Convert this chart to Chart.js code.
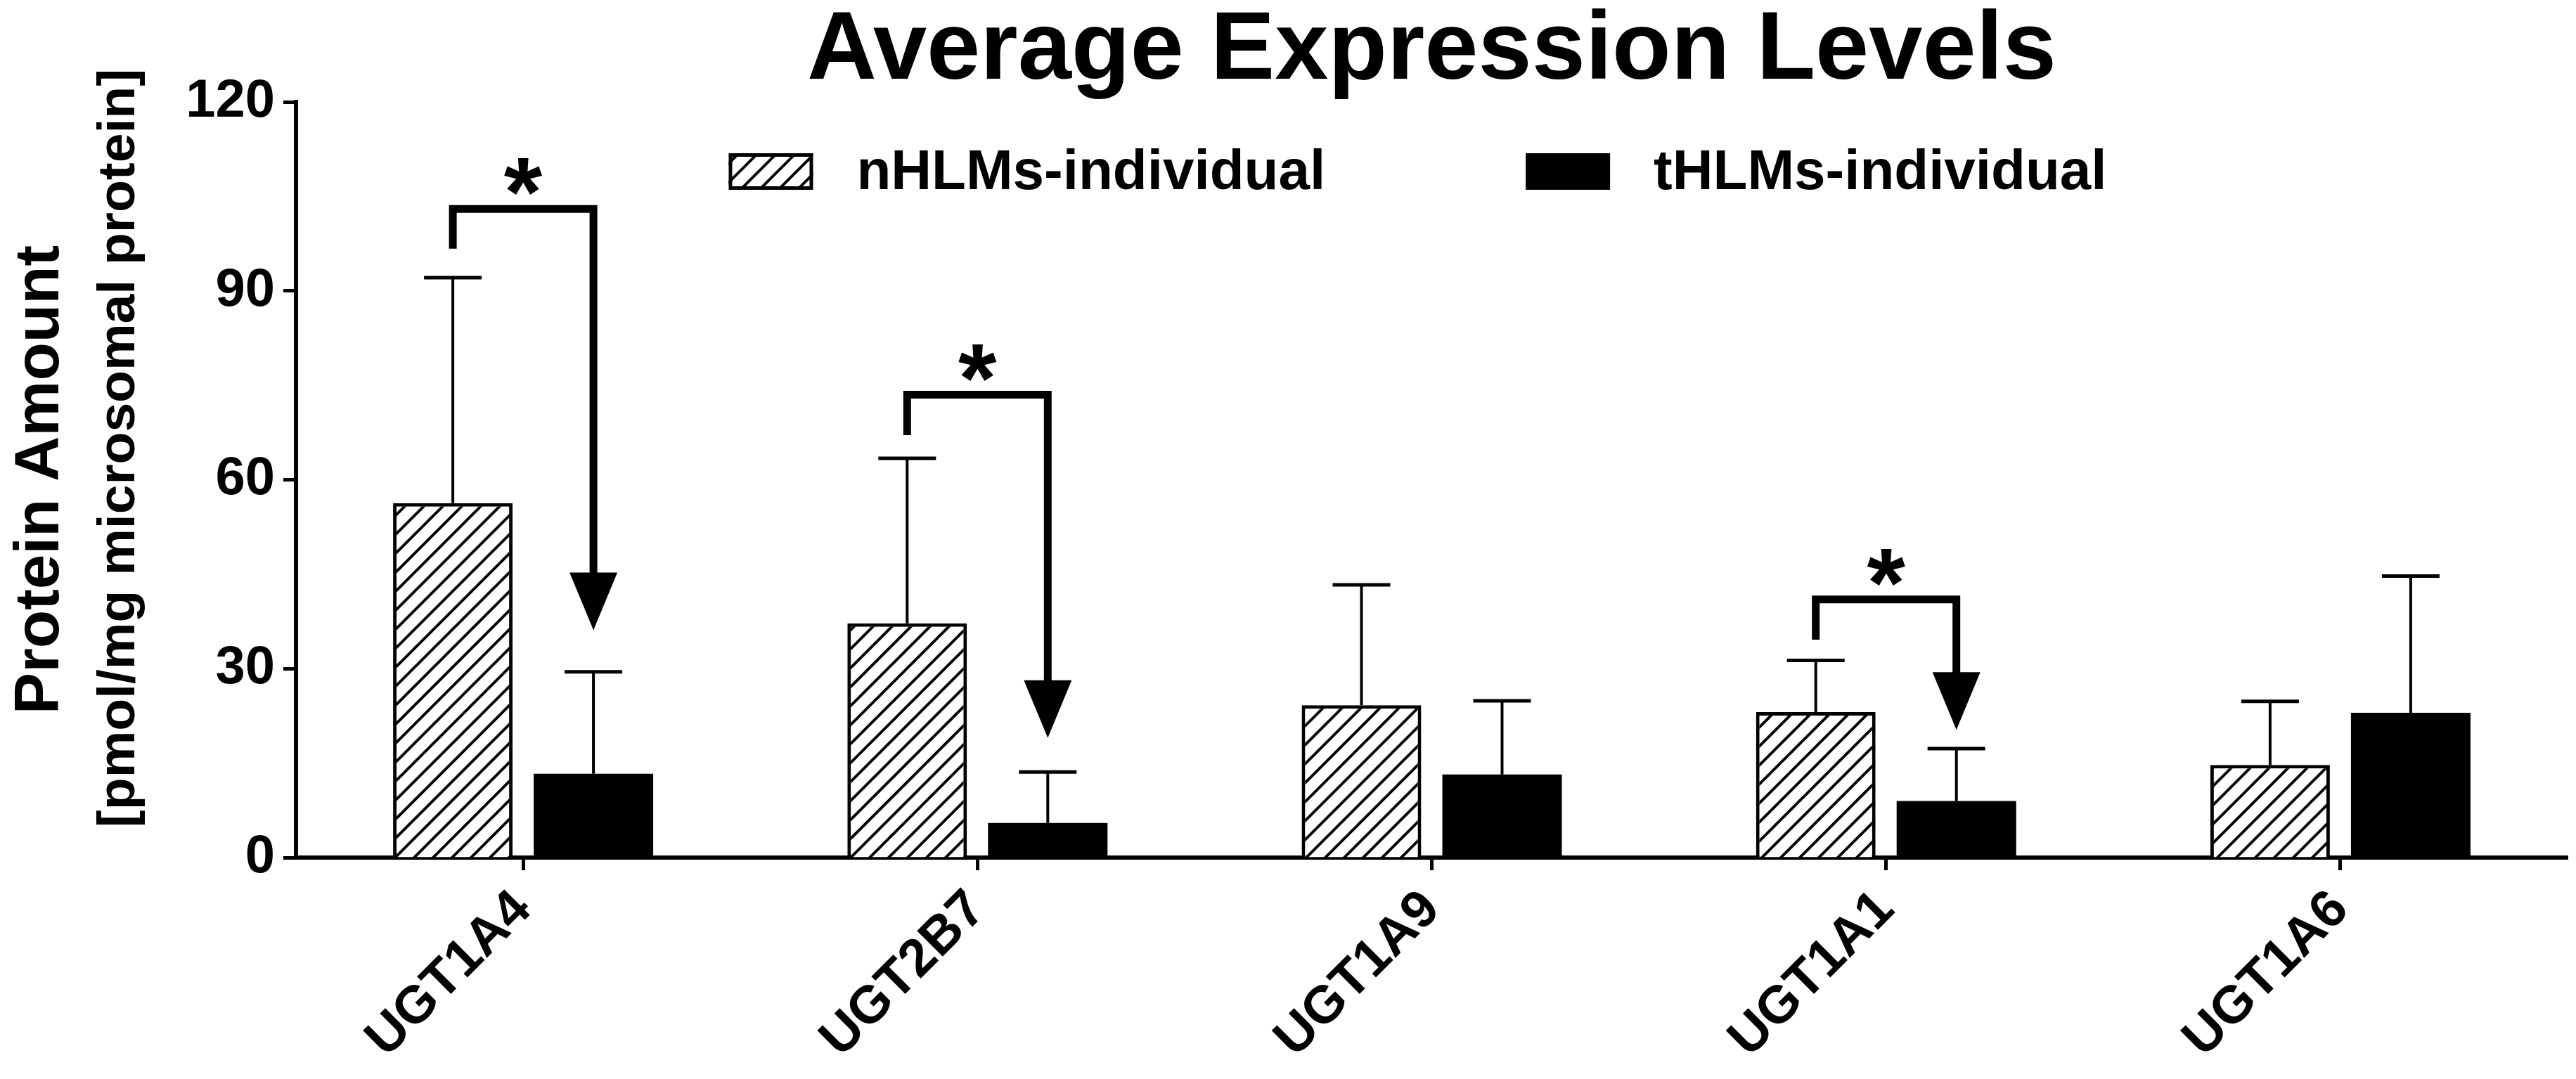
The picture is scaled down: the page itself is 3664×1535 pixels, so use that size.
<!DOCTYPE html>
<html>
<head>
<meta charset="utf-8">
<script src="https://cdn.jsdelivr.net/npm/chart.js@4.4.1/dist/chart.umd.min.js"></script>
<style>
  html, body { margin: 0; padding: 0; background: #fff; }
</style>
</head>
<body>
<canvas id="chart" width="3664" height="1535"></canvas>
<script>
// values (pmol/mg microsomal protein)
const categories = ['UGT1A4', 'UGT2B7', 'UGT1A9', 'UGT1A1', 'UGT1A6'];
const normalMeans = [56.3, 37.2, 24.2, 23.1, 14.7];
const normalSD = [35.8, 26.2, 19.1, 8.2, 10.1];
const tumorMeans = [13.3, 5.5, 13.2, 9.0, 23.0];
const tumorSD = [16.2, 8.1, 11.7, 8.3, 21.7];
const yTicks = [0, 30, 60, 90, 120];

// significance brackets (category index, heights in data units)
const sigIndex = [0, 1, 3];
const bracketTop = [103.0, 73.5, 41.0];
const bracketStart = [96.7, 67.1, 34.6];
const arrowTip = [36.1, 19.0, 20.3];

const FONT = '"Liberation Sans", Arial, Helvetica, sans-serif';

// diagonal hatch fill for the nHLMs bars
function makeHatch() {
  const s = 27;
  const c = document.createElement('canvas');
  c.width = s; c.height = s;
  const g = c.getContext('2d');
  g.fillStyle = '#fff';
  g.fillRect(0, 0, s, s);
  g.strokeStyle = '#000';
  g.lineWidth = 4;
  g.beginPath();
  g.moveTo(-2, s + 2); g.lineTo(s + 2, -2);
  g.moveTo(-2, 2); g.lineTo(2, -2);
  g.moveTo(s - 2, s + 2); g.lineTo(s + 2, s - 2);
  g.stroke();
  return g.createPattern(c, 'repeat');
}

const ctx = document.getElementById('chart').getContext('2d');
const hatch = makeHatch();

const extras = {
  id: 'extras',
  afterDatasetsDraw(chart) {
    const c = chart.ctx, y = chart.scales.y;
    const groups = [[normalMeans, normalSD], [tumorMeans, tumorSD]];
    c.save();
    c.strokeStyle = '#000';
    c.fillStyle = '#000';
    // error bars (upper only)
    groups.forEach(([m, sd], di) => {
      chart.getDatasetMeta(di).data.forEach((bar, i) => {
        const top = y.getPixelForValue(m[i] + sd[i]);
        c.lineWidth = 4;
        c.beginPath(); c.moveTo(bar.x, bar.y); c.lineTo(bar.x, top); c.stroke();
        c.lineWidth = 5;
        c.beginPath(); c.moveTo(bar.x - 41, top); c.lineTo(bar.x + 41, top); c.stroke();
      });
    });
    // brackets with arrows and stars
    const nMeta = chart.getDatasetMeta(0), tMeta = chart.getDatasetMeta(1);
    sigIndex.forEach((ci, k) => {
      const x1 = nMeta.data[ci].x, x2 = tMeta.data[ci].x;
      const yTop = y.getPixelForValue(bracketTop[k]);
      const yLeg = y.getPixelForValue(bracketStart[k]);
      const yTip = y.getPixelForValue(arrowTip[k]);
      const head = 82;
      c.lineWidth = 11;
      c.lineJoin = 'miter';
      c.lineCap = 'butt';
      c.beginPath();
      c.moveTo(x1, yLeg); c.lineTo(x1, yTop); c.lineTo(x2, yTop); c.lineTo(x2, yTip - head + 2);
      c.stroke();
      c.beginPath();
      c.moveTo(x2 - 34, yTip - head); c.lineTo(x2 + 34, yTip - head); c.lineTo(x2, yTip);
      c.closePath(); c.fill();
      c.font = 'bold 140px ' + FONT;
      c.textAlign = 'center';
      c.textBaseline = 'alphabetic';
      c.fillText('*', (x1 + x2) / 2, yTop + 24);
    });
    c.restore();
  },
  afterDraw(chart) {
    const c = chart.ctx, a = chart.chartArea;
    const cy = (a.top + a.bottom) / 2;
    c.save();
    c.fillStyle = '#000';
    c.strokeStyle = '#000';

    // legend inside the plot, one row
    c.font = 'bold 80px ' + FONT;
    const sets = chart.data.datasets;
    const boxW = 120, boxH = 52, gapText = 62, gapItem = 285;
    const widths = sets.map(d => c.measureText(d.label).width);
    let total = 0;
    sets.forEach((d, i) => { total += boxW + gapText + widths[i]; });
    total += gapItem * (sets.length - 1);
    let x = (a.left + a.right) / 2 - 20 - total / 2;
    const ly = a.top + 99;
    c.textAlign = 'left';
    c.textBaseline = 'middle';
    sets.forEach((d, i) => {
      c.fillStyle = d.backgroundColor;
      c.fillRect(x, ly - boxH / 2, boxW, boxH);
      if (d.borderWidth) {
        c.lineWidth = d.borderWidth;
        c.strokeRect(x + 2.5, ly - boxH / 2 + 2.5, boxW - 5, boxH - 5);
      }
      c.fillStyle = '#000';
      c.fillText(d.label, x + boxW + gapText, ly + 3);
      x += boxW + gapText + widths[i] + gapItem;
    });

    // two-line y axis title
    c.textAlign = 'center';
    c.textBaseline = 'alphabetic';
    c.translate(83, cy);
    c.rotate(-Math.PI / 2);
    c.font = 'bold 89px ' + FONT;
    c.fillText('Protein Amount', 0, 0);
    c.font = 'bold 75px ' + FONT;
    c.fillText('[pmol/mg microsomal protein]', 45, 108);
    c.restore();
  }
};

new Chart(ctx, {
  type: 'bar',
  data: {
    labels: categories,
    datasets: [{
      label: 'nHLMs-individual',
      data: normalMeans,
      backgroundColor: hatch,
      borderColor: '#000',
      borderWidth: 5,
      categoryPercentage: 0.619,
      barPercentage: 0.85
    }, {
      label: 'tHLMs-individual',
      data: tumorMeans,
      backgroundColor: '#000',
      borderColor: '#000',
      borderWidth: 0,
      categoryPercentage: 0.619,
      barPercentage: 0.85
    }]
  },
  options: {
    responsive: false,
    animation: false,
    devicePixelRatio: 1,
    layout: { padding: { left: 0, right: 12, top: 0, bottom: 0 } },
    plugins: {
      title: {
        display: true,
        text: 'Average Expression Levels',
        fullSize: false,
        color: '#000',
        font: { family: FONT, size: 137, weight: 'bold', lineHeight: 1 },
        padding: { top: 6, bottom: 2 }
      },
      legend: { display: false },
      tooltip: { enabled: false }
    },
    scales: {
      x: {
        grid: { display: true, drawOnChartArea: false, offset: false, tickLength: 18, tickWidth: 5, color: '#000' },
        border: { display: true, color: '#000', width: 6 },
        ticks: {
          color: '#000',
          font: { family: FONT, size: 75, weight: 'bold' },
          minRotation: 45,
          maxRotation: 45,
          autoSkip: false,
          padding: 12
        },
        afterFit(s) { s.height = 315; }
      },
      y: {
        min: 0,
        max: 120,
        afterBuildTicks(s) { s.ticks = yTicks.map(v => ({ value: v })); },
        grid: { display: true, drawOnChartArea: false, tickLength: 18, tickWidth: 5, color: '#000' },
        border: { display: true, color: '#000', width: 6 },
        ticks: {
          color: '#000',
          font: { family: FONT, size: 76, weight: 'bold' },
          padding: 12
        },
        afterFit(s) { s.width = 421; }
      }
    }
  },
  plugins: [extras]
});
</script>
</body>
</html>
